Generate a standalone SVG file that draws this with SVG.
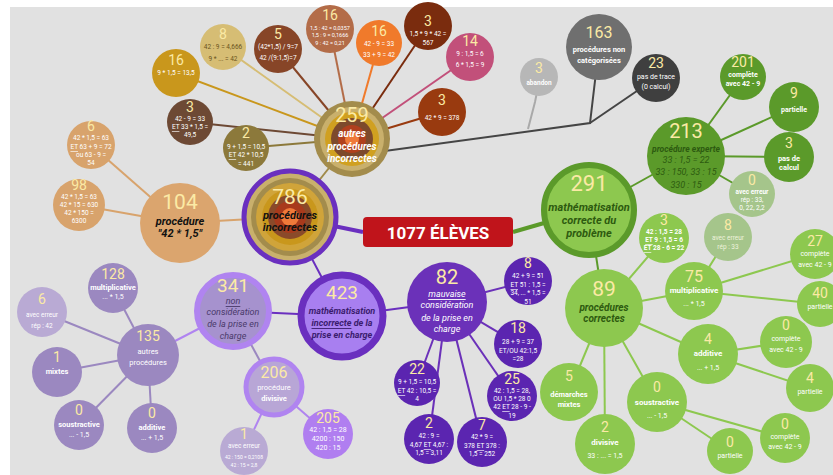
<svg xmlns="http://www.w3.org/2000/svg" width="833" height="475" viewBox="0 0 833 475">
<style>
text{font-family:Roboto,"Liberation Sans",sans-serif;text-anchor:middle;dominant-baseline:central}
.n{fill:#fbeaa5;font-size:14px}
.N{fill:#fbeaa5;font-size:21px}
.s{fill:#fff;font-size:6.5px}
.b{fill:#fff;font-size:8px;font-weight:bold}
.ib{font-style:italic;font-weight:bold}
.k{fill:#111}
.dg{fill:#2d5a10}
.dp{fill:#3b1c6e}
.c line,.c polyline{stroke-width:2;fill:none}
</style>
<rect x="0" y="0" width="833" height="475" fill="#fff"/>
<rect x="10" y="7" width="823" height="468" fill="#e1e1e1"/>
<g id="connectors" class="c">
<line x1="363" y1="232" x2="290" y2="217" stroke="#6a2fbf" style="stroke-width:4"/>
<line x1="513" y1="232" x2="589" y2="210" stroke="#5b9a2a" style="stroke-width:4"/>
<line x1="290" y1="217" x2="352" y2="139" stroke="#a08a4a"/>
<line x1="290" y1="217" x2="180" y2="223" stroke="#d8a36c"/>
<line x1="290" y1="217" x2="342" y2="316" stroke="#6a2fbf"/>
<line x1="352" y1="139" x2="176" y2="73" stroke="#c9971c"/>
<line x1="352" y1="139" x2="223" y2="47" stroke="#d6bd74"/>
<line x1="352" y1="139" x2="278" y2="49" stroke="#874527"/>
<line x1="352" y1="139" x2="330" y2="29" stroke="#b36c48"/>
<line x1="352" y1="139" x2="379" y2="43" stroke="#f07a2b"/>
<line x1="352" y1="139" x2="428" y2="26" stroke="#7a2c0e"/>
<line x1="352" y1="139" x2="470" y2="57" stroke="#c2507a"/>
<line x1="352" y1="139" x2="442" y2="112" stroke="#993a0f"/>
<line x1="352" y1="139" x2="190" y2="122" stroke="#6d4934"/>
<line x1="352" y1="139" x2="246" y2="148" stroke="#8c793b"/>
<polyline points="370,153 590,123 599,47" stroke="#454545"/>
<line x1="590" y1="123" x2="656" y2="78" stroke="#454545"/>
<polyline points="528,129 535,102 540,77" stroke="#a9a9a9"/>
<line x1="589" y1="210" x2="686" y2="156" stroke="#5b9a2a"/>
<line x1="589" y1="210" x2="604" y2="308" stroke="#5b9a2a"/>
<line x1="686" y1="156" x2="743" y2="77" stroke="#5b9a2a"/>
<line x1="686" y1="156" x2="794" y2="107" stroke="#5b9a2a"/>
<line x1="686" y1="156" x2="789" y2="157" stroke="#5b9a2a"/>
<line x1="686" y1="156" x2="752" y2="194" stroke="#5b9a2a"/>
<line x1="604" y1="308" x2="664" y2="238" stroke="#8dc84f"/>
<line x1="604" y1="308" x2="694" y2="291" stroke="#8dc84f"/>
<line x1="604" y1="308" x2="708" y2="354" stroke="#8dc84f"/>
<line x1="604" y1="308" x2="657" y2="402" stroke="#8dc84f"/>
<line x1="604" y1="308" x2="605" y2="444" stroke="#8dc84f"/>
<line x1="604" y1="308" x2="569" y2="392" stroke="#8dc84f"/>
<line x1="694" y1="291" x2="728" y2="237" stroke="#8dc84f"/>
<line x1="694" y1="291" x2="815" y2="254" stroke="#8dc84f"/>
<line x1="694" y1="291" x2="820" y2="304" stroke="#8dc84f"/>
<line x1="708" y1="354" x2="786" y2="342" stroke="#8dc84f"/>
<line x1="708" y1="354" x2="810" y2="388" stroke="#8dc84f"/>
<line x1="657" y1="402" x2="785" y2="438" stroke="#8dc84f"/>
<line x1="657" y1="402" x2="730" y2="451" stroke="#8dc84f"/>
<line x1="180" y1="223" x2="91" y2="145" stroke="#d8a36c"/>
<line x1="180" y1="223" x2="79" y2="205" stroke="#d8a36c"/>
<line x1="342" y1="316" x2="233" y2="311" stroke="#6a2fbf"/>
<line x1="342" y1="316" x2="447" y2="302" stroke="#6a2fbf"/>
<line x1="233" y1="311" x2="148" y2="355" stroke="#b084f0"/>
<line x1="233" y1="311" x2="274" y2="387" stroke="#9b88c0"/>
<line x1="148" y1="355" x2="113" y2="288" stroke="#9b88c0"/>
<line x1="148" y1="355" x2="42" y2="312" stroke="#9b88c0"/>
<line x1="148" y1="355" x2="57" y2="372" stroke="#9b88c0"/>
<line x1="148" y1="355" x2="79" y2="425" stroke="#9b88c0"/>
<line x1="148" y1="355" x2="152" y2="428" stroke="#9b88c0"/>
<line x1="274" y1="387" x2="244" y2="451" stroke="#b084f0"/>
<line x1="274" y1="387" x2="328" y2="434" stroke="#b084f0"/>
<line x1="447" y1="302" x2="528" y2="281" stroke="#6b31b9"/>
<line x1="447" y1="302" x2="518" y2="344" stroke="#6b31b9"/>
<line x1="447" y1="302" x2="512" y2="396" stroke="#6b31b9"/>
<line x1="447" y1="302" x2="482" y2="442" stroke="#6b31b9"/>
<line x1="447" y1="302" x2="429" y2="439" stroke="#6b31b9"/>
<line x1="447" y1="302" x2="417" y2="383" stroke="#6b31b9"/>
</g>

<g id="root"><rect x="363" y="217" width="150" height="30" rx="4" fill="#c0141b"/><text x="438" y="232.5" style="fill:#fff;font-size:17px;font-weight:bold">1077 ÉLÈVES</text></g>

<g id="n786">
<circle cx="290" cy="217" r="46" fill="#c9b06c" stroke="#6a2fbf" stroke-width="5"/>
<circle cx="290" cy="217" r="39" fill="#a38c4c"/>
<circle cx="290" cy="217" r="34" fill="#d0a43a"/>
<circle cx="290" cy="217" r="28" fill="#c9971c"/>
<circle cx="290" cy="217" r="22" fill="#8a4a2a"/>
<circle cx="290" cy="217" r="16" fill="#a83a1c"/>
<circle cx="290" cy="217" r="9" fill="#ef7a3a"/>
<text x="290" y="197" class="N">786</text>
<text x="290" y="215" class="ib k" style="font-size:11px">procédures</text>
<text x="290" y="227" class="ib k" style="font-size:11px">incorrectes</text>
</g>

<g id="n259">
<circle cx="352" cy="139" r="38" fill="#a38c4c"/>
<circle cx="352" cy="139" r="32" fill="#c9b06c"/>
<circle cx="352" cy="139" r="27" fill="#d0a020"/>
<circle cx="352" cy="139" r="21" fill="#7d4a2c"/>
<circle cx="352" cy="139" r="14" fill="#b0401e"/>
<circle cx="352" cy="139" r="7" fill="#ef7a3a"/>
<text x="352" y="115" class="N" style="font-size:20px">259</text>
<text x="352" y="133" class="ib" style="fill:#fff;font-size:10px">autres</text>
<text x="352" y="146" class="ib" style="fill:#fff;font-size:10px">procédures</text>
<text x="352" y="158" class="ib" style="fill:#fff;font-size:10px">incorrectes</text>
</g>

<g id="n16a"><circle cx="176" cy="73" r="24" fill="#c9971c"/><text x="176" y="60" class="n">16</text><text x="176" y="73" class="s">9 * 1,5 = 13,5</text></g>
<g id="n8a"><circle cx="223" cy="47" r="23" fill="#d6bd74"/><text x="223" y="34" class="n">8</text><text x="223" y="47" class="s" style="fill:#6b5420">42 : 9 = 4,666</text><text x="223" y="59" class="s" style="fill:#6b5420">9 * ... = 42</text></g>
<g id="n5"><circle cx="278" cy="49" r="24" fill="#874527"/><text x="278" y="34" class="n">5</text><text x="278" y="47" class="s">(42*1,5) / 9=7</text><text x="278" y="58" class="s">42 /(9:1,5)=7</text></g>
<g id="n16b"><circle cx="330" cy="29" r="24" fill="#b36c48"/><text x="330" y="15" class="n">16</text><text x="330" y="28" class="s" style="font-size:5.5px">1,5 : 42 = 0,0357</text><text x="330" y="35" class="s" style="font-size:5.5px">1,5 : 9 = 0,1666</text><text x="330" y="43" class="s" style="font-size:5.5px">9 : 42 = 0,21</text></g>
<g id="n16c"><circle cx="379" cy="43" r="23" fill="#f07a2b"/><text x="379" y="31" class="n">16</text><text x="379" y="44" class="s">42 - 9 = 33</text><text x="379" y="55" class="s">33 + 9 = 42</text></g>
<g id="n3a"><circle cx="428" cy="26" r="24" fill="#7a2c0e"/><text x="428" y="21" class="n">3</text><text x="428" y="34" class="s">1,5 * 9 * 42 =</text><text x="428" y="43" class="s">567</text></g>
<g id="n14"><circle cx="470" cy="57" r="24" fill="#c2507a"/><text x="470" y="41" class="n">14</text><text x="470" y="54" class="s">9 : 1,5 = 6</text><text x="470" y="65" class="s">6 * 1,5 = 9</text></g>
<g id="n3b"><circle cx="442" cy="112" r="24" fill="#993a0f"/><text x="442" y="100" class="n">3</text><text x="442" y="118" class="s">42 * 9 = 378</text></g>
<g id="n3c"><circle cx="190" cy="122" r="23" fill="#6d4934"/><text x="190" y="107" class="n">3</text><text x="190" y="119" class="s">42 - 9 = 33</text><text x="190" y="127" class="s"><tspan text-decoration="underline">ET</tspan> 33 * 1,5 =</text><text x="190" y="135" class="s">49,5</text></g>
<g id="n2a"><circle cx="246" cy="148" r="23" fill="#8c793b"/><text x="246" y="133" class="n">2</text><text x="246" y="147" class="s">9 + 1,5 = 10,5</text><text x="246" y="155" class="s"><tspan text-decoration="underline">ET</tspan> 42 * 10,5</text><text x="246" y="164" class="s">= 441</text></g>
<g id="n6a"><circle cx="91" cy="145" r="24" fill="#d8a36c"/><text x="91" y="126" class="n">6</text><text x="91" y="138" class="s">42 * 1,5 = 63</text><text x="91" y="147" class="s"><tspan text-decoration="underline">ET</tspan> 63 + 9 = 72</text><text x="91" y="155" class="s">ou 63 - 9 =</text><text x="91" y="163" class="s">54</text></g>
<g id="n98"><circle cx="79" cy="205" r="26" fill="#d8a36c"/><text x="79" y="185" class="n">98</text><text x="79" y="197" class="s">42 * 1,5 = 63</text><text x="79" y="205" class="s">42 * 15 = 630</text><text x="79" y="213" class="s">42 * 150 =</text><text x="79" y="221" class="s">6300</text></g>
<g id="n104"><circle cx="180" cy="223" r="40" fill="#dba56e"/><text x="180" y="202" class="N">104</text><text x="180" y="221" class="ib k" style="font-size:11px">procédure</text><text x="180" y="233" class="ib k" style="font-size:11px">"42 * 1,5"</text></g>

<g id="nab"><circle cx="539" cy="77" r="19" fill="#b7b7b7"/><text x="539" y="68" class="n">3</text><text x="539" y="83" class="s" style="font-weight:bold">abandon</text></g>
<g id="n163"><circle cx="599" cy="47" r="33" fill="#6f6f6f"/><text x="599" y="32" class="n" style="font-size:16px">163</text><text x="599" y="49" class="s" style="font-size:7.5px;font-weight:bold">procédures non</text><text x="599" y="60" class="s" style="font-size:7.5px;font-weight:bold">catégorisées</text></g>
<g id="n23"><circle cx="656" cy="78" r="24" fill="#3f3f3f"/><text x="656" y="63" class="n">23</text><text x="656" y="77" class="s" style="font-size:7px">pas de trace</text><text x="656" y="87" class="s" style="font-size:7px">(0 calcul)</text></g>

<g id="n291">
<circle cx="589" cy="210" r="45" fill="#8dc84f" stroke="#5b9a2a" stroke-width="6"/>
<text x="589" y="183" class="N" style="font-size:22px">291</text>
<text x="589" y="207" class="ib dg" style="font-size:11px">mathématisation</text>
<text x="589" y="220" class="ib dg" style="font-size:11px">correcte du</text>
<text x="589" y="233" class="ib dg" style="font-size:11px">problème</text>
</g>
<g id="n213"><circle cx="686" cy="156" r="39" fill="#5b9a2a"/><text x="686" y="131" class="N" style="font-size:20px">213</text><text x="686" y="149" class="ib dg" style="font-size:8.5px">procédure experte</text><text x="686" y="160" class="dg" style="font-size:9px;font-style:italic">33 : 1,5 = 22</text><text x="686" y="172" class="dg" style="font-size:9px;font-style:italic">33 : 150, 33 : 15</text><text x="686" y="185" class="dg" style="font-size:9px;font-style:italic">330 : 15</text></g>
<g id="n201"><circle cx="743" cy="77" r="23" fill="#5b9a2a"/><text x="743" y="62" class="n">201</text><text x="743" y="75" class="s" style="font-size:7px;font-weight:bold">complète</text><text x="743" y="84" class="s" style="font-size:7px;font-weight:bold">avec 42 - 9</text></g>
<g id="n9"><circle cx="794" cy="107" r="25" fill="#5b9a2a"/><text x="794" y="93" class="n">9</text><text x="794" y="110" class="s" style="font-size:7px;font-weight:bold">partielle</text></g>
<g id="n3pc"><circle cx="789" cy="157" r="25" fill="#5b9a2a"/><text x="789" y="143" class="n">3</text><text x="789" y="158" class="s" style="font-size:7.5px;font-weight:bold">pas de</text><text x="789" y="167" class="s" style="font-size:7.5px;font-weight:bold">calcul</text></g>
<g id="n0ae"><circle cx="752" cy="194" r="23" fill="#a5c58b"/><text x="752" y="180" class="n">0</text><text x="752" y="192" class="s" style="font-weight:bold">avec erreur</text><text x="752" y="200" class="s">rép : 33,</text><text x="752" y="208" class="s">0, 22, 2,2</text></g>

<g id="n89"><circle cx="604" cy="308" r="39" fill="#8dc84f"/><text x="604" y="289" class="N">89</text><text x="604" y="307" class="ib dg" style="font-size:10px">procédures</text><text x="604" y="318" class="ib dg" style="font-size:10px">correctes</text></g>
<g id="n3d"><circle cx="664" cy="238" r="25" fill="#8dc84f"/><text x="664" y="220" class="n">3</text><text x="664" y="232" class="s" style="font-weight:bold">42 : 1,5 = 28</text><text x="664" y="240" class="s" style="font-weight:bold"><tspan text-decoration="underline">ET</tspan> 9 : 1,5 = 6</text><text x="664" y="248" class="s" style="font-weight:bold"><tspan text-decoration="underline">ET</tspan> 28 - 6 = 22</text></g>
<g id="n8ae"><circle cx="728" cy="237" r="24" fill="#a5c58b"/><text x="728" y="225" class="n">8</text><text x="728" y="238" class="s" style="fill:#eef3dc">avec erreur</text><text x="728" y="247" class="s" style="fill:#eef3dc">rép : 33</text></g>
<g id="n27"><circle cx="815" cy="254" r="25" fill="#8dc84f"/><text x="815" y="241" class="n">27</text><text x="815" y="254" class="s" style="font-size:7px">complète</text><text x="815" y="265" class="s" style="font-size:7px">avec 42 - 9</text></g>
<g id="n75"><circle cx="694" cy="291" r="29" fill="#8dc84f"/><text x="694" y="276" class="n" style="font-size:16px">75</text><text x="694" y="290" class="b">multiplicative</text><text x="694" y="304" class="s" style="font-size:7px">... * 1,5</text></g>
<g id="n40"><circle cx="820" cy="304" r="23" fill="#8dc84f"/><text x="820" y="293" class="n">40</text><text x="820" y="307" class="s" style="font-size:7px">partielle</text></g>
<g id="n4add"><circle cx="708" cy="354" r="30" fill="#8dc84f"/><text x="708" y="339" class="n">4</text><text x="708" y="353" class="b">additive</text><text x="708" y="368" class="s" style="font-size:7px">... + 1,5</text></g>
<g id="n0c1"><circle cx="786" cy="342" r="26" fill="#8dc84f"/><text x="786" y="325" class="n">0</text><text x="786" y="339" class="s" style="font-size:7px">complète</text><text x="786" y="350" class="s" style="font-size:7px">avec 42 - 9</text></g>
<g id="n4p"><circle cx="810" cy="388" r="24" fill="#8dc84f"/><text x="810" y="378" class="n">4</text><text x="810" y="392" class="s" style="font-size:7px">partielle</text></g>
<g id="n5dm"><circle cx="569" cy="392" r="29" fill="#8dc84f"/><text x="569" y="376" class="n">5</text><text x="569" y="394" class="b" style="font-size:7.5px">démarches</text><text x="569" y="404" class="b" style="font-size:7.5px">mixtes</text></g>
<g id="n2div"><circle cx="605" cy="444" r="30" fill="#8dc84f"/><text x="605" y="427" class="n">2</text><text x="605" y="442" class="b">divisive</text><text x="605" y="456" class="s" style="font-size:7px">33 : ... = 1,5</text></g>
<g id="n0sous"><circle cx="657" cy="402" r="30" fill="#8dc84f"/><text x="657" y="387" class="n">0</text><text x="657" y="402" class="b">soustractive</text><text x="657" y="416" class="s" style="font-size:7px">... - 1,5</text></g>
<g id="n0p2"><circle cx="730" cy="451" r="23" fill="#8dc84f"/><text x="730" y="442" class="n">0</text><text x="730" y="456" class="s" style="font-size:7px">partielle</text></g>
<g id="n0c2"><circle cx="785" cy="438" r="25" fill="#8dc84f"/><text x="785" y="424" class="n">0</text><text x="785" y="437" class="s" style="font-size:7px">complète</text><text x="785" y="447" class="s" style="font-size:7px">avec 42 - 9</text></g>

<g id="n423"><circle cx="342" cy="316" r="41" fill="#a87ff0" stroke="#6a2fbf" stroke-width="7"/><text x="342" y="292" class="N" style="font-size:19px">423</text><text x="342" y="311" class="ib dp" style="font-size:9px">mathématisation</text><text x="342" y="323" class="ib dp" style="font-size:9px"><tspan text-decoration="underline">incorrecte</tspan> de la</text><text x="342" y="335" class="ib dp" style="font-size:9px">prise en charge</text></g>
<g id="n341"><circle cx="233" cy="311" r="36" fill="#a692ce" stroke="#b084f0" stroke-width="6"/><text x="233" y="285" class="N" style="font-size:19px">341</text><text x="233" y="301" style="fill:#4a3a6a;font-size:9px;font-style:italic"><tspan text-decoration="underline">non</tspan></text><text x="233" y="312" style="fill:#4a3a6a;font-size:9px;font-style:italic">considération</text><text x="233" y="324" style="fill:#4a3a6a;font-size:9px;font-style:italic">de la prise en</text><text x="233" y="336" style="fill:#4a3a6a;font-size:9px;font-style:italic">charge</text></g>
<g id="n82"><circle cx="447" cy="302" r="40" fill="#6b31b9"/><text x="447" y="277" class="N" style="font-size:20px">82</text><text x="447" y="294" style="fill:#fff;font-size:9px;font-style:italic"><tspan text-decoration="underline">mauvaise</tspan></text><text x="447" y="305" style="fill:#fff;font-size:9px;font-style:italic">considération</text><text x="447" y="318" style="fill:#fff;font-size:9px;font-style:italic">de la prise en</text><text x="447" y="329" style="fill:#fff;font-size:9px;font-style:italic">charge</text></g>
<g id="n8b"><circle cx="528" cy="281" r="24" fill="#5b25b0"/><text x="528" y="263" class="n">8</text><text x="528" y="276" class="s">42 + 9 = 51</text><text x="528" y="285" class="s"><tspan text-decoration="underline">ET</tspan> 51 : 1,5 =</text><text x="528" y="293" class="s">34, ... * 1,5 =</text><text x="528" y="302" class="s">51</text></g>
<g id="n18"><circle cx="518" cy="344" r="24" fill="#5b25b0"/><text x="518" y="328" class="n">18</text><text x="518" y="342" class="s">28 + 9 = 37</text><text x="518" y="351" class="s">ET/OU 42:1,5</text><text x="518" y="359" class="s">=28</text></g>
<g id="n25"><circle cx="512" cy="396" r="25" fill="#5b25b0"/><text x="512" y="379" class="n">25</text><text x="512" y="391" class="s">42 : 1,5 = 28,</text><text x="512" y="399" class="s">OU 1,5 * 28 0</text><text x="512" y="407" class="s">42 <tspan text-decoration="underline">ET</tspan> 28 - 9 -</text><text x="512" y="416" class="s">19</text></g>
<g id="n22"><circle cx="417" cy="383" r="23" fill="#5b25b0"/><text x="417" y="369" class="n">22</text><text x="417" y="382" class="s">9 + 1,5 = 10,5</text><text x="417" y="391" class="s"><tspan text-decoration="underline">ET</tspan> 42 : 10,5 =</text><text x="417" y="399" class="s">4</text></g>
<g id="n2b"><circle cx="429" cy="439" r="25" fill="#5b25b0"/><text x="429" y="423" class="n">2</text><text x="429" y="436" class="s">42 : 9 =</text><text x="429" y="445" class="s">4,67 <tspan text-decoration="underline">ET</tspan> 4,67 :</text><text x="429" y="453" class="s">1,5 = 3,11</text></g>
<g id="n7"><circle cx="482" cy="442" r="25" fill="#5b25b0"/><text x="482" y="425" class="n">7</text><text x="482" y="437" class="s">42 * 9 =</text><text x="482" y="446" class="s">378 <tspan text-decoration="underline">ET</tspan> 378 :</text><text x="482" y="454" class="s">1,5 = 252</text></g>

<g id="n128"><circle cx="113" cy="288" r="25" fill="#9b88c0"/><text x="113" y="274" class="n">128</text><text x="113" y="287" class="b" style="font-size:7.5px">multiplicative</text><text x="113" y="297" class="s" style="font-size:7px">... * 1,5</text></g>
<g id="n6ae"><circle cx="42" cy="312" r="25" fill="#b9aad4"/><text x="42" y="299" class="n">6</text><text x="42" y="315" class="s">avec erreur</text><text x="42" y="326" class="s">rép : 42</text></g>
<g id="n135"><circle cx="148" cy="355" r="31" fill="#9b88c0"/><text x="148" y="336" class="n">135</text><text x="148" y="351" class="s" style="font-size:7.5px">autres</text><text x="148" y="362" class="s" style="font-size:7.5px">procédures</text></g>
<g id="n1m"><circle cx="57" cy="372" r="25" fill="#9b88c0"/><text x="57" y="357" class="n">1</text><text x="57" y="371" class="b" style="font-size:7.5px">mixtes</text></g>
<g id="n0s"><circle cx="79" cy="425" r="25" fill="#9b88c0"/><text x="79" y="410" class="n">0</text><text x="79" y="424" class="b" style="font-size:7.5px">soustractive</text><text x="79" y="435" class="s" style="font-size:7px">... - 1,5</text></g>
<g id="n0a"><circle cx="152" cy="428" r="25" fill="#9b88c0"/><text x="152" y="413" class="n">0</text><text x="152" y="427" class="b" style="font-size:7.5px">additive</text><text x="152" y="438" class="s" style="font-size:7px">... + 1,5</text></g>
<g id="n206"><circle cx="274" cy="387" r="28" fill="#b8a6d6" stroke="#b084f0" stroke-width="5"/><text x="274" y="372" class="n" style="font-size:16px">206</text><text x="274" y="387" class="s" style="font-size:7.5px">procédure</text><text x="274" y="398" class="b" style="font-size:7.5px">divisive</text></g>
<g id="n1ae"><circle cx="244" cy="451" r="24" fill="#b9aad4"/><text x="244" y="434" class="n">1</text><text x="244" y="446" class="s">avec erreur</text><text x="244" y="457" class="s" style="font-size:5px">42 : 150 = 0,2108</text><text x="244" y="465" class="s" style="font-size:5px">42 : 15 = 2,8</text></g>
<g id="n205"><circle cx="328" cy="434" r="25" fill="#b07ef0"/><text x="328" y="418" class="n">205</text><text x="328" y="430" class="s" style="font-size:7px">42 : 1,5 = 28</text><text x="328" y="439" class="s" style="font-size:7px">4200 : 150</text><text x="328" y="448" class="s" style="font-size:7px">420 : 15</text></g>
</svg>
